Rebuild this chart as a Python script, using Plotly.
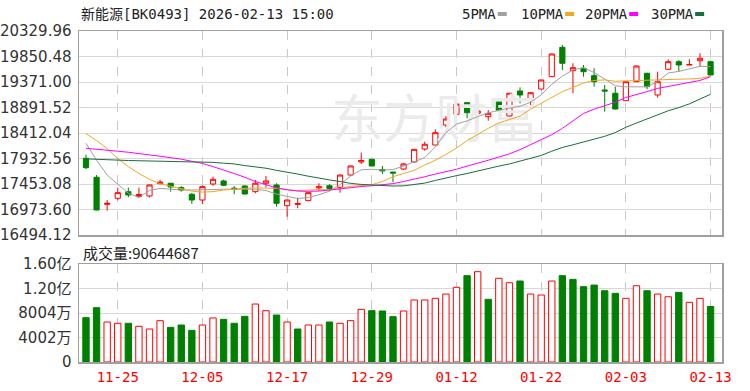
import plotly.graph_objects as go

dates = ["11-20","11-21","11-24","11-25","11-26","11-27","11-28",
         "12-01","12-02","12-03","12-04","12-05","12-08","12-09","12-10","12-11","12-12",
         "12-15","12-16","12-17","12-18","12-19","12-22","12-23","12-24","12-25","12-26",
         "12-29","12-30","12-31","01-05","01-06","01-07","01-08","01-09",
         "01-12","01-13","01-14","01-15","01-16","01-19","01-20","01-21","01-22","01-23",
         "01-26","01-27","01-28","01-29","01-30","02-02","02-03","02-04","02-05","02-06",
         "02-09","02-10","02-11","02-12","02-13"]

open_ = [17936,17580,17070,17185,17309,17215,17228,17460,17467,17384,
         17260,17152,17453,17510,17375,17416,17309,17467,17434,17045,
         17070,17140,17380,17420,17390,17622,17867,17917,17725,17678,
         17735,17867,18111,18186,18562,18764,18982,18782,18719,19001,
         18732,19202,19033,19239,19471,20023,19584,19629,19490,19221,
         19159,19020,19377,19535,19127,19610,19753,19690,19771,19753]
high = [18004,17623,17152,17384,17384,17384,17440,17530,17470,17415,
        17284,17430,17590,17535,17416,17425,17530,17604,17467,17152,
        17195,17295,17467,17450,17630,17800,18042,17925,17792,17680,
        17850,18110,18249,18482,18732,18965,18990,19094,18845,19064,
        19165,19271,19180,19415,19905,20067,19723,19691,19629,19315,
        19283,19385,19680,19545,19565,19798,19785,19798,19911,19771]
low = [17735,16960,16952,17152,17204,17195,17200,17450,17309,17309,
       17078,17078,17420,17410,17260,17255,17280,17390,17027,16838,
       16997,17130,17325,17325,17290,17610,17830,17785,17641,17490,
       17716,17860,18079,18180,18519,18755,18688,18594,18643,18825,
       18725,18970,18939,19230,19465,19597,19159,19471,19283,18813,
       18855,19013,19370,19234,19076,19600,19565,19690,19659,19495]
close = [17760,16964,17090,17290,17247,17255,17435,17490,17397,17340,
         17152,17403,17541,17430,17350,17265,17467,17510,17090,17152,
         17085,17290,17400,17370,17622,17792,17895,17792,17700,17660,
         17830,18105,18200,18418,18675,18957,18794,18826,18782,18832,
         19159,19127,19170,19409,19898,19723,19640,19565,19377,19202,
         18863,19377,19672,19283,19377,19753,19691,19700,19817,19503]

ma5 = [18218,17900,17620,17450,17280,17200,17330,17370,17350,17340,
       17340,17340,17350,17355,17352,17350,17355,17330,17265,17220,
       17180,17200,17250,17320,17440,17600,17720,17730,17716,17725,
       17790,17870,17950,18150,18420,18580,18640,18720,18790,18840,
       18875,18915,18990,19130,19330,19480,19600,19640,19550,19420,
       19300,19280,19275,19280,19380,19540,19570,19620,19665,19660]
ma10 = [18400,18270,18120,17930,17780,17650,17540,17460,17410,17360,
        17320,17300,17310,17340,17360,17372,17380,17375,17370,17345,
        17330,17340,17350,17345,17370,17410,17430,17440,17500,17590,
        17650,17710,17810,17900,18010,18130,18270,18390,18500,18600,
        18670,18730,18860,18970,19070,19190,19270,19350,19400,19410,
        19385,19390,19400,19405,19410,19412,19420,19430,19440,19484]
ma20 = [18125,18110,18095,18070,18050,18030,18000,17975,17950,17920,
        17880,17840,17780,17720,17650,17580,17500,17440,17380,17345,
        17320,17315,17320,17340,17365,17385,17405,17420,17440,17460,
        17500,17540,17590,17640,17680,17730,17790,17840,17900,17960,
        18020,18100,18190,18290,18380,18500,18640,18780,18860,18930,
        18990,19080,19130,19190,19250,19290,19320,19360,19400,19470]
ma30 = [17925,17915,17905,17900,17895,17890,17885,17880,17875,17873,
        17873,17870,17860,17845,17830,17800,17780,17750,17710,17680,
        17640,17600,17560,17530,17500,17465,17445,17435,17420,17415,
        17418,17440,17470,17520,17570,17610,17650,17700,17740,17790,
        17830,17880,17940,17990,18070,18140,18190,18240,18300,18350,
        18420,18520,18600,18680,18760,18830,18890,18960,19050,19140]

volume = [72.4,88.7,65.3,63.2,63.2,58.3,53.9,67.5,56.6,60.4,
          51.7,60.4,71.9,69.7,63.2,74.6,94.7,83.8,76.7,65.3,
          53.9,60.4,60.4,65.3,63.2,67.5,86.0,83.8,83.3,74.0,
          83.3,101.3,101.3,104.0,111.0,122.0,141.0,147.5,102.4,136.7,
          129.5,132.3,111.0,109.4,132.3,141.0,135.0,123.0,125.7,116.4,
          112.2,104.0,124.6,116.4,111.0,106.6,113.8,97.5,104.0,90.644687]  # millions

price_ticks = [16494.12, 16973.60, 17453.08, 17932.56, 18412.04, 18891.52, 19371.00, 19850.48, 20329.96]
vol_ticks = [0, 40020000, 80040000, 120060000, 160080000]
vol_tick_text = ["0", "4002万", "8004万", "1.20亿", "1.60亿"]
date_tick_idx = [3, 11, 19, 27, 35, 43, 51, 59]

RED = "#ff0000"
GREEN = "#008000"
idx = list(range(len(dates)))
vol_units = [v * 1e6 for v in volume]
vol_up = [False] + [close[i] >= close[i - 1] for i in range(1, len(close))]

fig = go.Figure()

# watermark (drawn first, behind data)
fig.add_trace(go.Scatter(x=[33.0], y=[18560], mode="text", text=["东方财富"],
                         textfont=dict(size=52, color="#ebebeb", family="Noto Sans CJK SC"),
                         hoverinfo="skip", showlegend=False, xaxis="x", yaxis="y"))

fig.add_trace(go.Candlestick(
    x=idx, open=open_, high=high, low=low, close=close,
    increasing=dict(line=dict(color=RED, width=1), fillcolor="#ffffff"),
    decreasing=dict(line=dict(color=GREEN, width=1), fillcolor=GREEN),
    whiskerwidth=0, showlegend=False, xaxis="x", yaxis="y", hoverinfo="skip"))

for vals, col in [(ma5, "#a0a0a0"), (ma10, "#f5a623"), (ma20, "#ff00ff"), (ma30, "#1a6e3a")]:
    fig.add_trace(go.Scatter(x=idx, y=vals, mode="lines", line=dict(color=col, width=1),
                             showlegend=False, xaxis="x", yaxis="y", hoverinfo="skip"))

fig.add_trace(go.Bar(
    x=idx, y=vol_units, width=0.6,
    marker=dict(color=["#ffffff" if u else GREEN for u in vol_up],
                line=dict(color=[RED if u else GREEN for u in vol_up], width=1)),
    showlegend=False, xaxis="x2", yaxis="y2", hoverinfo="skip"))

W, H = 750.0, 391.0
ML, MR, MT, MB = 79, 28, 0, 29
PH = H - MT - MB
PW = W - ML - MR
def py(px):
    return 1 - (px - MT) / PH
def pxx(px):
    return (px - ML) / PW

xr = [-0.66, 60.08]
grid_x = dict(showgrid=True, gridcolor="#c8c8c8", griddash="dash", gridwidth=1,
              tickvals=date_tick_idx, range=xr, zeroline=False, automargin=False,
              showline=True, mirror=True, linecolor="#a0a0a0", linewidth=1.5)
fig.update_layout(
    width=750, height=391, paper_bgcolor="#ffffff", plot_bgcolor="#ffffff",
    margin=dict(l=ML, r=MR, t=MT, b=MB, pad=0, autoexpand=False),
    hovermode=False, bargap=0,
    xaxis=dict(domain=[0, 1], anchor="y", showticklabels=False,
               rangeslider=dict(visible=False), **grid_x),
    xaxis2=dict(domain=[0, 1], anchor="y2", showticklabels=True,
                ticktext=[dates[i] for i in date_tick_idx],
                tickfont=dict(family="DejaVu Sans Mono", size=14, color=RED),
                ticks="", ticklabelstandoff=2, **grid_x),
    yaxis=dict(domain=[py(235), py(31)], range=[price_ticks[0], price_ticks[-1]],
               tickvals=price_ticks, ticktext=["%.2f" % v for v in price_ticks],
               tickfont=dict(family="DejaVu Sans", size=15, color="#333333"),
               showgrid=True, gridcolor="#d8d8d8", gridwidth=1, zeroline=False, automargin=False,
               showline=True, mirror=True, linecolor="#a0a0a0", linewidth=1.5,
               ticks="", ticklabelstandoff=3, anchor="x"),
    yaxis2=dict(domain=[py(362), py(264)], range=[0, vol_ticks[-1]],
                tickvals=vol_ticks, ticktext=vol_tick_text,
                tickfont=dict(family="DejaVu Sans, Noto Sans CJK SC", size=15, color="#333333"),
                showgrid=True, gridcolor="#d8d8d8", gridwidth=1, zeroline=False, automargin=False,
                showline=True, mirror=True, linecolor="#a0a0a0", linewidth=1.5,
                ticks="", ticklabelstandoff=3, anchor="x2"),
)

mono = "DejaVu Sans Mono, Noto Sans CJK SC"
fig.add_annotation(xref="paper", yref="paper", x=pxx(80), y=py(14), xanchor="left", yanchor="middle",
                   text="新能源[BK0493] 2026-02-13 15:00", showarrow=False, borderpad=0,
                   font=dict(family=mono, size=14, color="#222222"))
fig.add_annotation(xref="paper", yref="paper", x=pxx(82), y=py(252), xanchor="left", yanchor="middle",
                   text="成交量:%d" % round(volume[-1] * 1e6), showarrow=False, borderpad=0,
                   font=dict(family="Noto Sans CJK SC, DejaVu Sans", size=15, color="#222222"))

legend_items = [("5PMA", "#a0a0a0", 461), ("10PMA", "#f5a623", 520), ("20PMA", "#ff00ff", 584), ("30PMA", "#1a6e3a", 650)]
for name, col, px in legend_items:
    fig.add_annotation(xref="paper", yref="paper", x=pxx(px), y=py(14), xanchor="left", yanchor="middle",
                       text=name, showarrow=False, borderpad=0,
                       font=dict(family=mono, size=14, color="#222222"))
    tx = px + 8.43 * len(name) + 3
    fig.add_shape(type="rect", xref="paper", yref="paper",
                  x0=pxx(tx), x1=pxx(tx + 9), y0=py(16), y1=py(12),
                  fillcolor=col, line=dict(width=0))

fig.write_html("out.html", config={"displayModeBar": False, "staticPlot": True},
               post_script="document.body.style.margin='0px';document.body.style.overflow='hidden';")
